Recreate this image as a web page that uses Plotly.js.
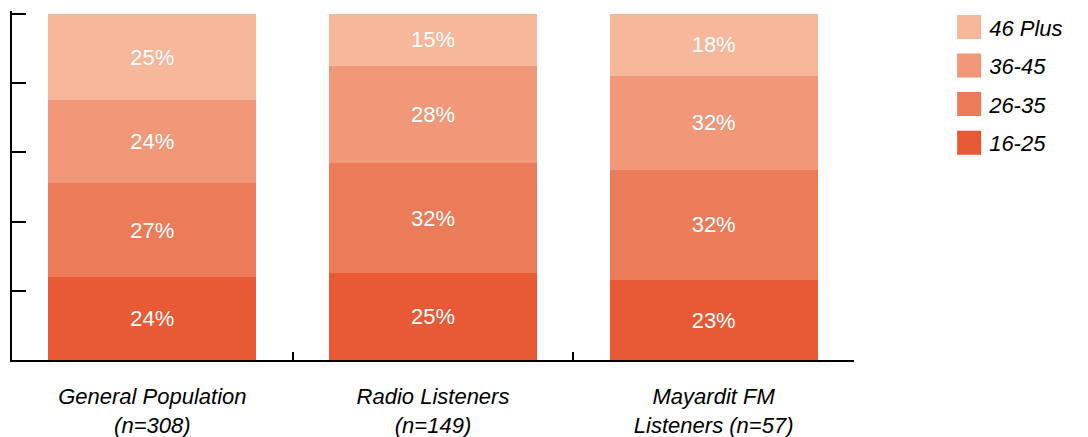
<!DOCTYPE html>
<html>
<head>
<meta charset="utf-8">
<script src="https://cdn.plot.ly/plotly-3.0.1.min.js"></script>
<style>
html,body{margin:0;padding:0;background:#fff;}
#chart{width:1088px;height:437px;}
</style>
</head>
<body>
<div id="chart"></div>
<script>
var categories = ["General Population<br>(n=308)", "Radio Listeners<br>(n=149)", "Mayardit FM<br>Listeners (n=57)"];
var seriesNames = ["16-25", "26-35", "36-45", "46 Plus"];
var colors = ["#e85936", "#ec7b59", "#f09878", "#f6b79b"];
// bar heights (percent)
var age16_25 = [24, 25, 23];
var age26_35 = [27, 32, 32];
var age36_45 = [24, 28, 27];
var age46plus = [25, 15, 18];
// printed labels
var lab16_25 = ["24%", "25%", "23%"];
var lab26_35 = ["27%", "32%", "32%"];
var lab36_45 = ["24%", "28%", "32%"];
var lab46plus = ["25%", "15%", "18%"];

var values = [age16_25, age26_35, age36_45, age46plus];
var labels = [lab16_25, lab26_35, lab36_45, lab46plus];

var traces = seriesNames.map(function (name, i) {
  return {
    type: "bar",
    name: name,
    legendgroup: "g" + i,
    legendrank: seriesNames.length - i,
    x: categories,
    y: values[i],
    text: labels[i],
    textposition: "inside",
    insidetextanchor: "middle",
    textangle: 0,
    texttemplate: "%{text}",
    textfont: {family: "Liberation Sans, Arial, sans-serif", size: 22, color: "#ffffff"},
    marker: {color: colors[i], line: {width: 0}},
    width: 0.74,
    hoverinfo: "skip"
  };
});

var layout = {
  width: 1088,
  height: 437,
  margin: {l: 12, r: 234, t: 11, b: 77, pad: 0, autoexpand: false},
  barmode: "stack",
  paper_bgcolor: "#ffffff",
  plot_bgcolor: "#ffffff",
  font: {family: "Liberation Sans, Arial, sans-serif", color: "#000000"},
  showlegend: true,
  legend: {
    x: 1.113, xanchor: "left",
    yref: "container", y: 0.986, yanchor: "top",
    traceorder: "grouped",
    tracegroupgap: 7,
    font: {size: 22, style: "italic", color: "#000000"},
    bgcolor: "rgba(0,0,0,0)"
  },
  xaxis: {
    type: "category",
    range: [-0.5, 2.5],
    automargin: false,
    showline: true, linecolor: "#000000", linewidth: 2,
    ticks: "inside", tickson: "boundaries", ticklen: 8, tickwidth: 2, tickcolor: "#000000",
    showgrid: false, zeroline: false,
    tickfont: {size: 22, style: "italic", color: "#000000"},
    ticklabelstandoff: 16
  },
  yaxis: {
    range: [0, 100.8],
    automargin: false,
    showline: true, linecolor: "#000000", linewidth: 2,
    ticks: "inside", ticklen: 14, tickwidth: 2, tickcolor: "#000000",
    tickvals: [0, 20, 40, 60, 80, 100],
    showticklabels: false,
    showgrid: false, zeroline: false
  }
};

Plotly.newPlot("chart", traces, layout, {displayModeBar: false, staticPlot: true}).then(function () {
  var pts = document.querySelectorAll(".legendpoints path");
  pts.forEach(function (p) {
    var t = p.getAttribute("transform") || "";
    p.setAttribute("transform", t + " scale(2)");
  });
});
</script>
</body>
</html>
